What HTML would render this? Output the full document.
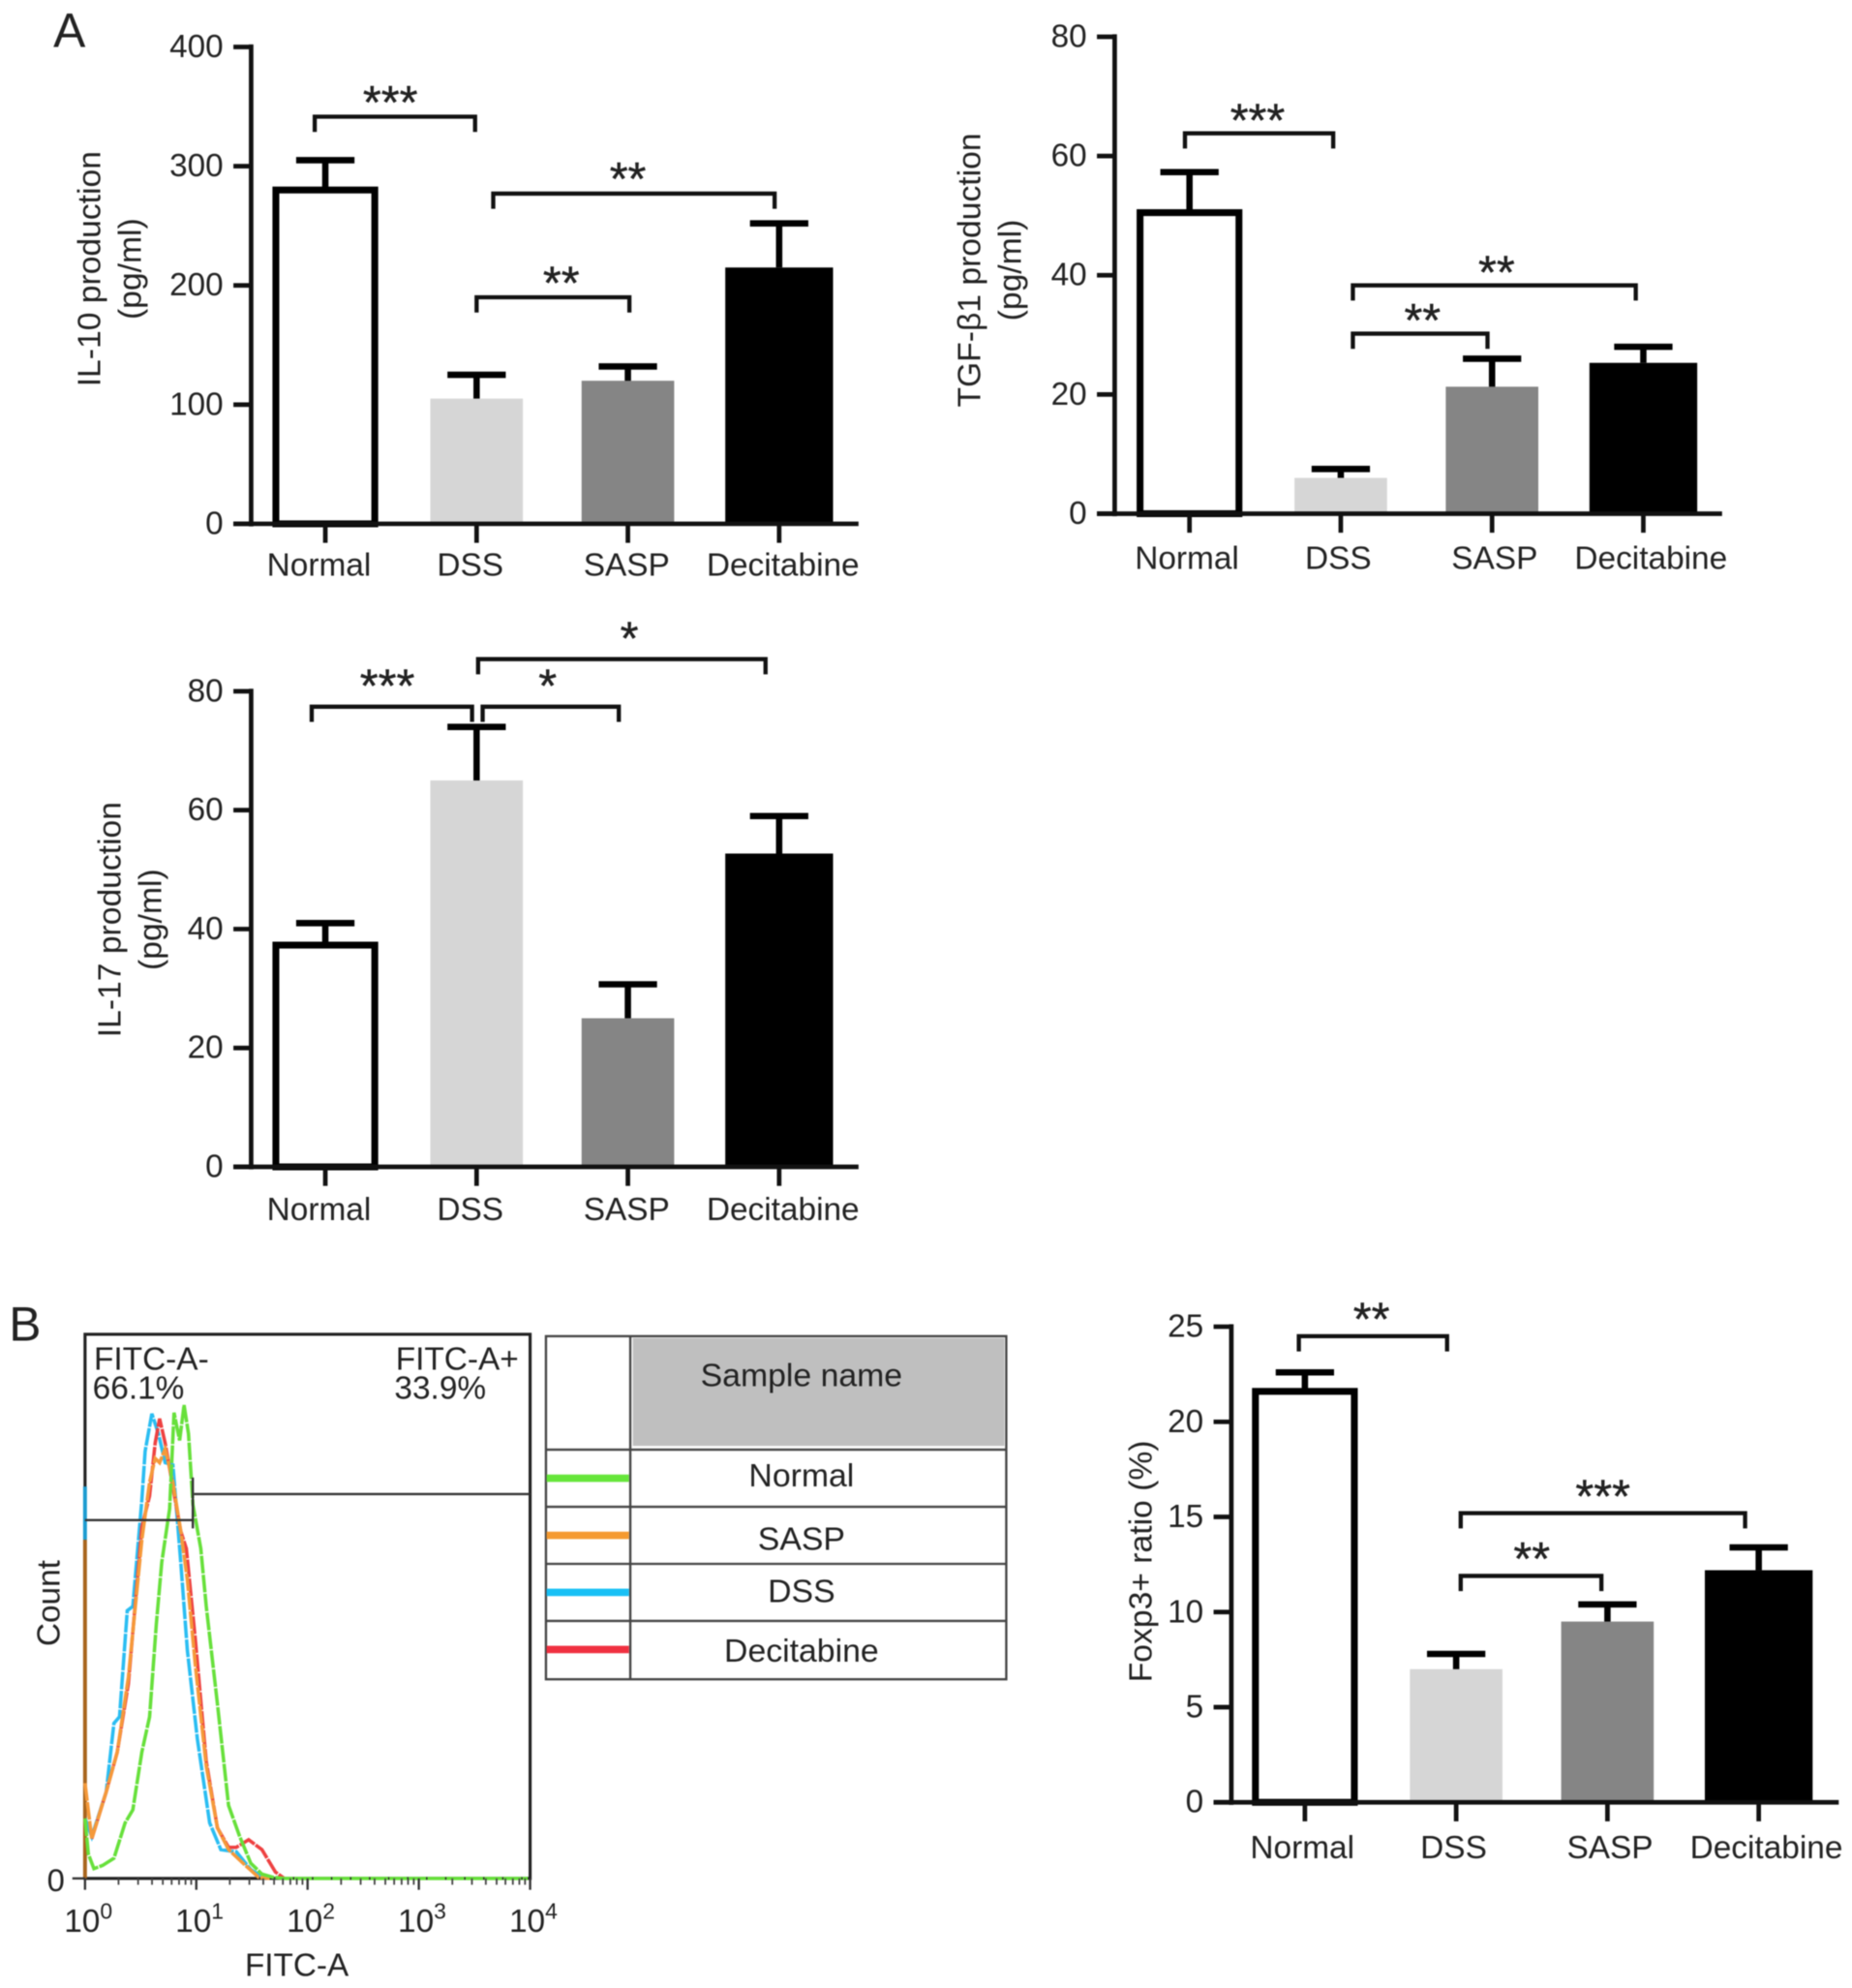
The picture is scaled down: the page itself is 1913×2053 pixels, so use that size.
<!DOCTYPE html>
<html lang="en">
<head>
<meta charset="utf-8">
<title>Cytokine production and Foxp3 ratio</title>
<style>
html,body{margin:0;padding:0;background:#fff;width:1913px;height:2053px;overflow:hidden}
svg{display:block;filter:blur(.6px)}
text{font-family:"Liberation Sans",sans-serif;fill:#222}
</style>
</head>
<body>
<svg id="figure" xmlns="http://www.w3.org/2000/svg" width="1913" height="2053" viewBox="0 0 1460.4 1567.4"></svg>
<script>
// ---- bar chart data ----
const categories = ["Normal", "DSS", "SASP", "Decitabine"];
const il10Values = [280, 105, 120, 215];
const il10ErrorTops = [305, 125, 132, 252];
const il10Ticks = [0, 100, 200, 300, 400];
const tgfValues = [50.5, 6, 21.3, 25.3];
const tgfErrorTops = [57.3, 7.5, 26, 28];
const tgfTicks = [0, 20, 40, 60, 80];
const il17Values = [37.3, 65, 25, 52.7];
const il17ErrorTops = [41, 74, 30.7, 59];
const il17Ticks = [0, 20, 40, 60, 80];
const foxp3Values = [21.6, 7, 9.5, 12.2];
const foxp3ErrorTops = [22.6, 7.8, 10.4, 13.4];
const foxp3Ticks = [0, 5, 10, 15, 20, 25];

// significance brackets: category units and value level
const il10From = [-0.07, 1.11, 1.0];
const il10To = [0.99, 2.97, 2.01];
const il10Level = [341.5, 277, 190];
const il10Stars = ["***", "**", "**"];
const il10StarAt = [0.43, 2.0, 1.56];
const tgfFrom = [-0.03, 1.08, 1.08];
const tgfTo = [0.95, 2.95, 1.97];
const tgfLevel = [63.8, 38.3, 30.2];
const tgfStars = ["***", "**", "**"];
const tgfStarAt = [0.45, 2.03, 1.54];
const il17From = [-0.09, 1.04, 1.01];
const il17To = [0.97, 1.94, 2.91];
const il17Level = [77.4, 77.4, 85.4];
const il17Stars = ["***", "*", "*"];
const il17StarAt = [0.41, 1.47, 2.01];
const foxp3From = [-0.04, 1.03, 1.03];
const foxp3To = [0.94, 2.91, 1.96];
const foxp3Level = [24.5, 15.2, 11.9];
const foxp3Stars = ["**", "***", "**"];
const foxp3StarAt = [0.44, 1.97, 1.5];

// ---- flow cytometry histogram data: log10(FITC-A) and count (% of axis) ----
const normalLog = [0,.03,.08,.16,.26,.36,.43,.51,.58,.64,.69,.76,.80,.85,.89,.93,.97,1.04,1.09,1.19,1.29,1.39,1.49,1.59,1.69,1.79,3.98];
const normalCount = [11,4.5,1.8,2.4,3.7,10.2,12.6,23.2,29.7,46.7,58.1,67.9,85.6,80.5,87,81.7,68.7,60.6,50,32.1,13.4,7.7,2.8,.8,.2,0,0];
const saspLog = [0,.06,.19,.29,.39,.51,.58,.63,.67,.72,.79,.86,.92,.99,1.09,1.19,1.29,1.42,1.56,1.66];
const saspCount = [17.5,7.3,15.9,23.2,37,62.2,72.8,77.2,76.4,78.9,72.8,63.8,54.9,39.4,20.7,9.3,5.3,2.8,.2,0];
const dssLog = [0,.06,.19,.26,.31,.38,.43,.51,.54,.60,.66,.72,.79,.86,.92,1.01,1.12,1.22,1.36,1.49,1.62];
const dssCount = [11,7.7,15.9,28.5,29.7,49.2,50,69.5,78.5,85.4,81.7,76.4,76,58.1,41.9,25.6,10.2,5.3,4.9,1.6,0];
const decitabineLog = [.06,.19,.29,.39,.51,.58,.63,.67,.72,.79,.86,.91,.99,1.09,1.19,1.29,1.36,1.47,1.59,1.71,1.79];
const decitabineCount = [7.3,15.9,23.2,35.8,64.6,70.3,80,84.5,80,71.9,63.8,60.6,44.1,21.5,9.3,5.7,5.7,7.1,5.3,1.2,0];
const flowDecades = [0, 1, 2, 3, 4];
const tableRows = ["Normal", "SASP", "DSS", "Decitabine"];

// ---- rendering ----
const svg = document.getElementById('figure');
const NS = 'http://www.w3.org/2000/svg';
function make(tag, attrs, parent) {
  const el = document.createElementNS(NS, tag);
  for (const k in attrs) el.setAttribute(k, attrs[k]);
  (parent || svg).appendChild(el);
  return el;
}
function label(str, x, y, size, anchor, parent, rotate) {
  const t = make('text', {x: x, y: y, 'font-size': size, 'text-anchor': anchor}, parent);
  if (rotate) t.setAttribute('transform', 'rotate(-90 ' + x + ' ' + y + ')');
  t.textContent = str;
  return t;
}
const barLook = [
  {half: 39, fill: '#fff', stroke: '#000', sw: 5.4},
  {half: 36.5, fill: '#d6d6d6', stroke: 'none', sw: 0},
  {half: 36.5, fill: '#858585', stroke: 'none', sw: 0},
  {half: 42.5, fill: '#000', stroke: 'none', sw: 0}
];
const labelNudge = [-4, -4, 0, 4];

function barPanel(p) {
  const g = make('g', {});
  
  
  const maxTick = p.ticks[p.ticks.length - 1];
  const xOf = i => p.x0 + 119.3 * i;
  const yOf = v => p.bottom - (p.bottom - p.top) * v / maxTick;

  p.values.forEach((v, i) => {
    const look = barLook[i];
    const cx = xOf(i);
    const bar = make('rect', {x: cx - look.half, y: yOf(v), width: look.half * 2, height: yOf(0) - yOf(v), fill: look.fill, stroke: look.stroke, 'stroke-width': look.sw}, g);
    
    
    const err = make('path', {d: 'M' + cx + ' ' + yOf(v) + 'V' + yOf(p.errors[i]) + 'M' + (cx - 23) + ' ' + yOf(p.errors[i]) + 'H' + (cx + 23), stroke: '#000', 'stroke-width': 5, fill: 'none'}, g);
    
    
  });

  const yAxis = make('line', {x1: p.axisX, x2: p.axisX, y1: p.top - 2, y2: p.bottom + 2, stroke: '#111', 'stroke-width': 3.6}, g);
  
  
  const xAxis = make('line', {x1: p.axisX - 14, x2: p.right, y1: p.bottom, y2: p.bottom, stroke: '#111', 'stroke-width': 3.6}, g);
  
  

  p.ticks.forEach(t => {
    make('line', {x1: p.axisX - 14, x2: p.axisX, y1: yOf(t), y2: yOf(t), stroke: '#111', 'stroke-width': 3.6}, g);
    const tl = label(String(t), p.axisX - 22, yOf(t) + 8, 25.4, 'end', g);
    
    
  });
  categories.forEach((c, i) => {
    make('line', {x1: xOf(i), x2: xOf(i), y1: p.bottom, y2: p.bottom + 15, stroke: '#111', 'stroke-width': 3.6}, g);
    const tl = label(c, xOf(i) + labelNudge[i] + p.labelDx, p.bottom + p.labelDy, 25.5, 'middle', g);
    
    
  });
  p.title.forEach((line, i) => {
    const tt = label(line, p.titleX + i * 32, p.titleY, 25.7, 'middle', g, true);
    
    
  });
  p.from.forEach((f, i) => {
    const y = yOf(p.level[i]);
    const br = make('path', {d: 'M' + xOf(f) + ' ' + (y + 12) + 'V' + y + 'H' + xOf(p.to[i]) + 'V' + (y + 12), fill: 'none', stroke: '#111', 'stroke-width': 3.3}, g);
    
    
    const s = label(p.stars[i], xOf(p.starAt[i]), y + 3 - p.starLift, 37, 'middle', g);
    s.setAttribute('stroke', '#111');
    s.setAttribute('stroke-width', '0.3');
    
    
  });
}

barPanel({name: 'il-10-chart', values: il10Values, errors: il10ErrorTops, ticks: il10Ticks, from: il10From, to: il10To, level: il10Level, stars: il10Stars, starAt: il10StarAt, x0: 256.5, axisX: 198, right: 677, top: 37, bottom: 413, title: ['IL-10 production', '(pg/ml)'], titleX: 79, titleY: 212, labelDx: -1, labelDy: 41, starLift: 2});
barPanel({name: 'tgf-b1-chart', values: tgfValues, errors: tgfErrorTops, ticks: tgfTicks, from: tgfFrom, to: tgfTo, level: tgfLevel, stars: tgfStars, starAt: tgfStarAt, x0: 938, axisX: 879, right: 1358, top: 29, bottom: 405, title: ['TGF-β1 production', '(pg/ml)'], titleX: 773, titleY: 213, labelDx: 2, labelDy: 43.5, starLift: 1});
barPanel({name: 'il-17-chart', values: il17Values, errors: il17ErrorTops, ticks: il17Ticks, from: il17From, to: il17To, level: il17Level, stars: il17Stars, starAt: il17StarAt, x0: 256.5, axisX: 198, right: 677, top: 545, bottom: 920, title: ['IL-17 production', '(pg/ml)'], titleX: 95, titleY: 725, labelDx: -1, labelDy: 42, starLift: 7});
barPanel({name: 'foxp3-chart', values: foxp3Values, errors: foxp3ErrorTops, ticks: foxp3Ticks, from: foxp3From, to: foxp3To, level: foxp3Level, stars: foxp3Stars, starAt: foxp3StarAt, x0: 1029, axisX: 971, right: 1450, top: 1046, bottom: 1421, title: ['Foxp3+ ratio (%)'], titleX: 908, titleY: 1231, labelDx: 2, labelDy: 44, starLift: 4});

// panel letters
const letterA = label('A', 42, 37, 38, 'start');


const letterB = label('B', 7, 1057, 38, 'start');



// flow histogram
(function () {
  const g = make('g', {});
  
  
  const L = 67, R = 418, T = 1052, B = 1481;
  const xOf = v => L + (R - L) * v / 4;
  const yOf = v => B - 4.29 * v;
  const draw = (xs, ys, color, name) => {
    const d = xs.map((x, i) => (i ? 'L' : 'M') + xOf(x).toFixed(1) + ' ' + yOf(ys[i]).toFixed(1)).join('');
    const line = make('path', {d: d, fill: 'none', stroke: color, 'stroke-width': 2.7, 'stroke-dasharray': '14 1'}, g);
    
    
  };
  const frame = make('rect', {x: L, y: T, width: R - L, height: B - T, fill: 'none', stroke: '#222', 'stroke-width': 2.4}, g);
  
  

  make('line', {x1: L, x2: L, y1: 1172, y2: 1214, stroke: '#1c9bd0', 'stroke-width': 3}, g);
  make('line', {x1: L, x2: L, y1: 1214, y2: 1481, stroke: '#a8641c', 'stroke-width': 3}, g);

  draw(dssLog, dssCount, '#29bdf2', 'dss-histogram');
  draw(decitabineLog, decitabineCount, '#ee4040', 'decitabine-histogram');
  draw(saspLog, saspCount, '#f5993a', 'sasp-histogram');
  draw(normalLog, normalCount, '#66e03a', 'normal-histogram');

  const gateL = make('path', {d: 'M' + L + ' 1198.5H152M152 1165V1205', fill: 'none', stroke: '#333', 'stroke-width': 1.8}, g);
  
  
  const gateR = make('path', {d: 'M153 1178H' + R, fill: 'none', stroke: '#333', 'stroke-width': 1.8}, g);
  
  

  flowDecades.forEach(d => {
    make('line', {x1: xOf(d), x2: xOf(d), y1: B, y2: B + 9, stroke: '#333', 'stroke-width': 1.8}, g);
    if (d < 4) {
      for (let m = 2; m < 10; m++) {
        const v = d + Math.log10(m);
        make('line', {x1: xOf(v), x2: xOf(v), y1: B, y2: B + 5, stroke: '#444', 'stroke-width': 1.4}, g);
      }
    }
    const t = make('text', {x: xOf(d) - 16.5, y: B + 42, 'font-size': 25.5}, g);
    
    
    t.appendChild(document.createTextNode('10'));
    const sup = make('tspan', {dy: -10, 'font-size': 17.5}, t);
    sup.textContent = String(d);
  });
  make('line', {x1: L - 10, x2: L, y1: B, y2: B, stroke: '#333', 'stroke-width': 1.8}, g);
  const zero = label('0', 44, B + 10, 25, 'middle', g);
  
  
  const xt = label('FITC-A', 234, 1558, 25.4, 'middle', g);
  
  
  const yt = label('Count', 47, 1264, 25.5, 'middle', g, true);
  
  

  const g1 = label('FITC-A-', 74, 1080, 25.5, 'start', g);
  
  
  const g2 = label('66.1%', 73, 1103, 25.5, 'start', g);
  
  
  const g3 = label('FITC-A+', 312, 1080, 25.5, 'start', g);
  
  
  const g4 = label('33.9%', 311, 1103, 25.5, 'start', g);
  
  
})();

// sample table legend
(function () {
  const g = make('g', {});
  
  
  const swatch = ['#66e63a', '#f59a30', '#18c0f5', '#f03040'];
  const rowTop = [1143, 1188, 1233, 1278];
  const textY = [1172, 1222, 1263, 1310];
  make('rect', {x: 499, y: 1055, width: 293, height: 85, fill: '#bfbfbf'}, g);
  make('rect', {x: 430.5, y: 1053.5, width: 363, height: 270.5, fill: 'none', stroke: '#444', 'stroke-width': 1.8}, g);
  make('line', {x1: 497, x2: 497, y1: 1053, y2: 1324, stroke: '#444', 'stroke-width': 1.8}, g);
  const head = label('Sample name', 632, 1093, 25.8, 'middle', g);
  
  
  tableRows.forEach((r, i) => {
    make('line', {x1: 430, x2: 794, y1: rowTop[i], y2: rowTop[i], stroke: '#444', 'stroke-width': 1.8}, g);
    const sw = make('line', {x1: 431, x2: 496, y1: rowTop[i] + 22.5, y2: rowTop[i] + 22.5, stroke: swatch[i], 'stroke-width': 5.8}, g);
    
    
    const t = label(r, 632, textY[i], 25.8, 'middle', g);
    
    
  });
})();
</script>
</body>
</html>
